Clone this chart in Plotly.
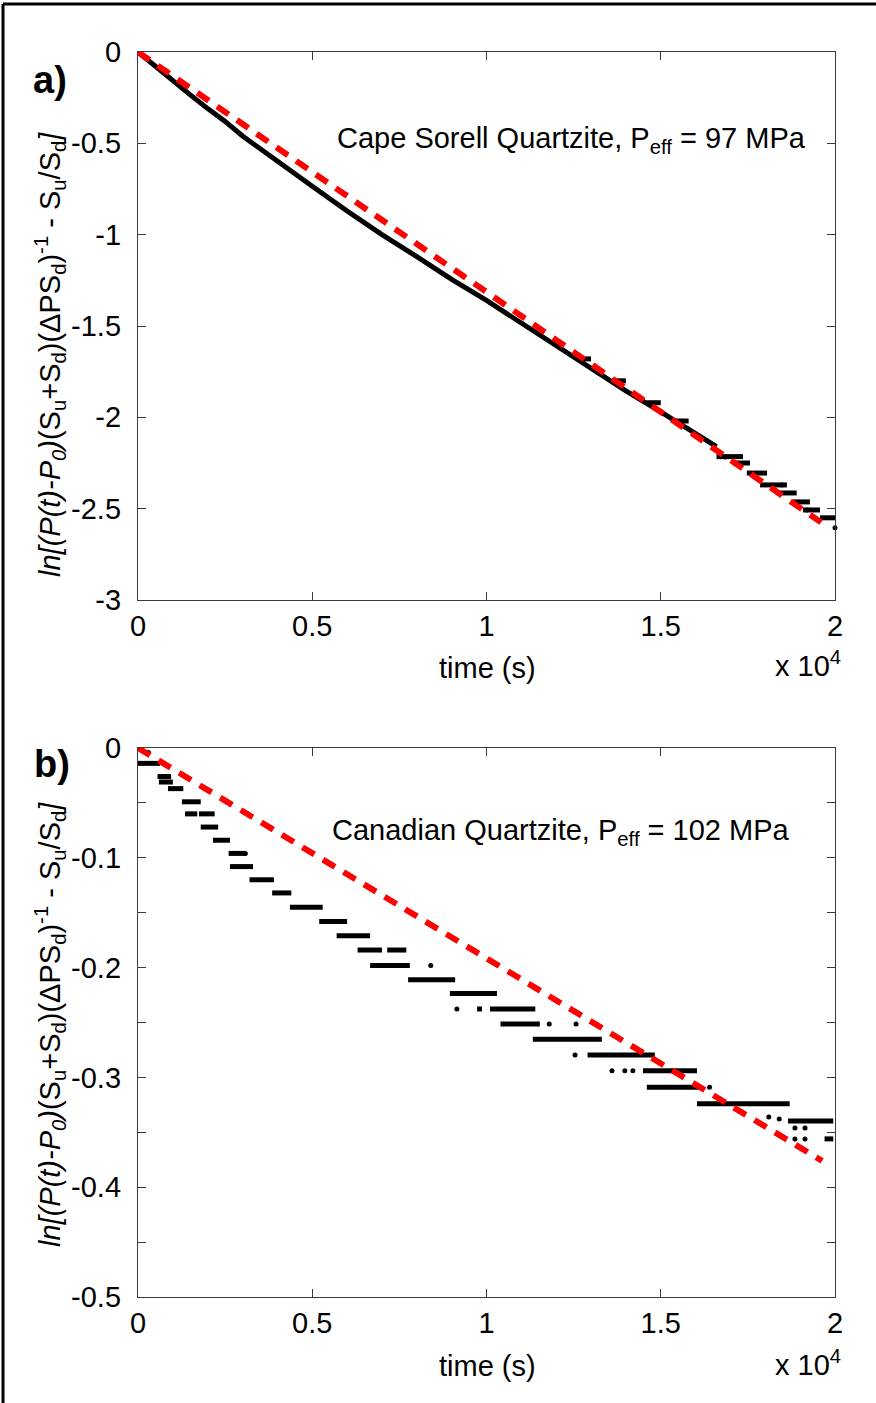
import plotly.graph_objects as go

W, H = 876, 1403

# ---------------- data (time in seconds) ----------------
# Panel a: Cape Sorell Quartzite (dense, near-continuous record)
a_t = [0, 500, 1000, 1500, 2000, 2500, 3000, 4000, 5000, 6000, 7000, 8000,
       9000, 10000, 11000, 12000, 13000, 14000, 15000, 16000, 16600]
a_y = [0, -0.08, -0.16, -0.235, -0.31, -0.38, -0.46, -0.60, -0.735, -0.87,
       -1.00, -1.12, -1.245, -1.36, -1.485, -1.61, -1.735, -1.855, -1.97,
       -2.09, -2.16]
# quantised steps at late time
a_step_t0 = [12600, 13600, 14600, 15400, 16600, 17070, 17470, 17850, 18330, 18800, 19080, 19570]
a_step_t1 = [13000, 14000, 15000, 15800, 17360, 17560, 18050, 18620, 18900, 19280, 19570, 20000]
a_step_y = [-1.68, -1.80, -1.92, -2.02, -2.215, -2.25, -2.305, -2.37, -2.414, -2.463, -2.507, -2.55]
a_dot_t = [16850, 18470, 19200, 20000]
a_dot_y = [-2.217, -2.37, -2.507, -2.605]
a_fit_t = [0, 19600]
a_fit_y = [0, -2.575]

# Panel b: Canadian Quartzite (strongly quantised record)
b_step_t0 = [0, 560, 600, 860, 1260, 1350, 1750, 1800, 2150, 2600, 2640, 3200,
             3850, 4360, 5200, 5700, 6300, 7150, 6660, 7750, 8950, 9730, 10100,
             10400, 11330, 12900, 13170, 14490, 14600, 16040, 18650, 19700]
b_step_t1 = [630, 950, 1000, 1300, 1800, 1700, 2200, 2300, 2640, 3100, 3300, 3900,
             4400, 5300, 6000, 6660, 7000, 7700, 7800, 9100, 10300, 9870, 11400,
             11530, 13310, 13170, 14830, 16040, 16100, 18700, 19950, 19950]
b_step_y = [-0.014, -0.026, -0.031, -0.037, -0.049, -0.060, -0.060, -0.072, -0.084,
            -0.096, -0.108, -0.120, -0.132, -0.145, -0.158, -0.171, -0.184, -0.184,
            -0.198, -0.211, -0.2235, -0.2377, -0.2377, -0.2514, -0.2653, -0.2796,
            -0.2796, -0.294, -0.309, -0.324, -0.3397, -0.356]
b_dot_t = [300, 3080, 8400, 9150, 11800, 12570, 12540, 13600, 13970, 14200,
           16400, 18100, 18400, 18850, 19140, 18850, 19140]
b_dot_y = [-0.004, -0.096, -0.198, -0.2377, -0.2514, -0.2514, -0.2796, -0.294,
           -0.294, -0.294, -0.309, -0.336, -0.338, -0.346, -0.346, -0.356, -0.356]
b_fit_t = [0, 19630]
b_fit_y = [0, -0.376]

x_tickvals = [0, 5000, 10000, 15000, 20000]
x_ticktext = ["0", "0.5", "1", "1.5", "2"]
a_yticks = [0, -0.5, -1, -1.5, -2, -2.5, -3]
a_ytext = ["0", "-0.5", "-1", "-1.5", "-2", "-2.5", "-3"]
b_yticks = [0, -0.1, -0.2, -0.3, -0.4, -0.5]
b_ytext = ["0", "-0.1", "-0.2", "-0.3", "-0.4", "-0.5"]
b_yminor = [-0.05, -0.15, -0.25, -0.35, -0.45]

FONT = "Liberation Sans, Arial, sans-serif"
AXC = "#3a3a3a"
FS = 29


def segs(t0, t1, y):
    xs, ys = [], []
    for a, b, v in zip(t0, t1, y):
        xs += [a, b, None]
        ys += [v, v, None]
    return xs, ys


fig = go.Figure()

# panel a
fig.add_trace(go.Scatter(x=a_t, y=a_y, mode="lines", line=dict(color="black", width=5),
                         xaxis="x", yaxis="y", cliponaxis=False, showlegend=False))
sx, sy = segs(a_step_t0, a_step_t1, a_step_y)
fig.add_trace(go.Scatter(x=sx, y=sy, mode="lines", line=dict(color="black", width=5),
                         xaxis="x", yaxis="y", cliponaxis=False, showlegend=False))
fig.add_trace(go.Scatter(x=a_dot_t, y=a_dot_y, mode="markers", marker=dict(color="black", size=5),
                         xaxis="x", yaxis="y", cliponaxis=False, showlegend=False))
fig.add_trace(go.Scatter(x=a_fit_t, y=a_fit_y, mode="lines",
                         line=dict(color="#ff0000", width=6, dash="14px,10px"),
                         xaxis="x", yaxis="y", cliponaxis=False, showlegend=False))

# panel b
sx, sy = segs(b_step_t0, b_step_t1, b_step_y)
fig.add_trace(go.Scatter(x=sx, y=sy, mode="lines", line=dict(color="black", width=5),
                         xaxis="x2", yaxis="y2", cliponaxis=False, showlegend=False))
fig.add_trace(go.Scatter(x=b_dot_t, y=b_dot_y, mode="markers", marker=dict(color="black", size=5),
                         xaxis="x2", yaxis="y2", cliponaxis=False, showlegend=False))
fig.add_trace(go.Scatter(x=b_fit_t, y=b_fit_y, mode="lines",
                         line=dict(color="#ff0000", width=6, dash="14px,10px"),
                         xaxis="x2", yaxis="y2", cliponaxis=False, showlegend=False))


def px(x):
    return x / W


def py(y):
    return 1 - y / H


xdom = [px(138), px(835)]
common_ax = dict(showline=True, linecolor=AXC, linewidth=1.3, mirror="ticks",
                 ticks="inside", ticklen=8, tickcolor=AXC, tickwidth=1,
                 showgrid=False, zeroline=False, automargin=False,
                 tickfont=dict(family=FONT, size=FS, color="black"))

fig.update_layout(
    width=W, height=H, margin=dict(l=0, r=0, t=0, b=0, pad=0, autoexpand=False),
    paper_bgcolor="white", plot_bgcolor="white",
    font=dict(family=FONT, color="black"),
    xaxis=dict(domain=xdom, anchor="y", range=[0, 20000], tickvals=x_tickvals,
               ticktext=x_ticktext, ticklabelstandoff=0, **common_ax),
    yaxis=dict(domain=[py(600), py(52)], anchor="x", range=[-3, 0], tickvals=a_yticks,
               ticktext=a_ytext, ticklabelstandoff=10, **common_ax),
    xaxis2=dict(domain=xdom, anchor="y2", range=[0, 20000], tickvals=x_tickvals,
                ticktext=x_ticktext, ticklabelstandoff=0, **common_ax),
    yaxis2=dict(domain=[py(1297), py(748)], anchor="x2", range=[-0.5, 0], tickvals=b_yticks,
                ticktext=b_ytext, ticklabelstandoff=10,
                minor=dict(tickvals=b_yminor, ticks="inside", ticklen=8, tickcolor=AXC),
                **common_ax),
)

ytitle = ("<i>ln[(P(t)-P<sub>0</sub>)</i>(S<sub>u</sub>+S<sub>d</sub>)(ΔPS<sub>d</sub>)"
          "<sup>-1</sup> - S<sub>u</sub>/S<sub>d</sub><i>]</i>")

ann = []
def add_text(x, y, text, size=FS, **kw):
    ann.append(dict(x=px(x), y=py(y), xref="paper", yref="paper", text=text,
                    xanchor="center", yanchor="middle",
                    showarrow=False, font=dict(family=FONT, size=size, color="black"), **kw))

add_text(50, 80, "<b>a)</b>", size=38)
add_text(52, 764, "<b>b)</b>", size=38)
add_text(50, 355, ytitle, size=FS, textangle=-90)
add_text(50, 1025, ytitle, size=FS, textangle=-90)
add_text(571, 140, "Cape Sorell Quartzite, P<sub>eff</sub> = 97 MPa")
add_text(561, 832, "Canadian Quartzite, P<sub>eff</sub> = 102 MPa")
add_text(487, 668, "time (s)")
add_text(487, 1366, "time (s)")
add_text(808, 664, "x 10<sup>4</sup>")
add_text(808, 1363, "x 10<sup>4</sup>")
fig.update_layout(annotations=ann)

# outer frame (left and top edges visible)
fig.add_shape(type="line", xref="paper", yref="paper", x0=px(3), x1=1.0, y0=py(4), y1=py(4),
              line=dict(color="black", width=3))
fig.add_shape(type="line", xref="paper", yref="paper", x0=px(3), x1=px(3), y0=py(4), y1=0,
              line=dict(color="black", width=3))

fig.write_html("out.html", config={"displayModeBar": False},
               post_script="document.body.style.margin='0';document.body.style.padding='0';")
